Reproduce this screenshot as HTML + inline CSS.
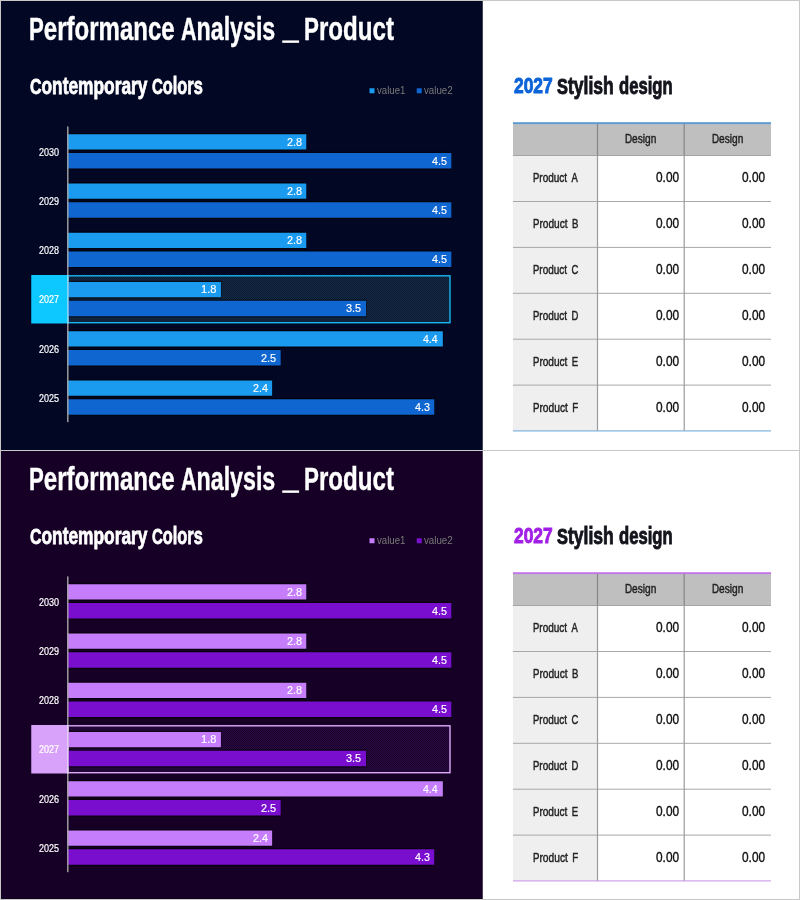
<!DOCTYPE html>
<html lang="en"><head><meta charset="utf-8"><title>Performance Analysis _ Product</title>
<style>
html,body{margin:0;padding:0;background:#fff}
body{width:800px;height:900px;position:relative;overflow:hidden;font-family:"Liberation Sans",sans-serif}
.abs,.t{position:absolute}
.t{white-space:pre;line-height:1;transform-origin:0 0;display:block}
</style></head><body>

<svg class="abs" style="left:0;top:0" width="800" height="900" viewBox="0 0 800 900"><defs><pattern id="h0" width="2" height="2" patternUnits="userSpaceOnUse"><rect width="2" height="2" fill="#0a1a30"/><path d="M-0.5,0.5 L0.5,-0.5 M0,2 L2,0 M1.5,2.5 L2.5,1.5" stroke="#1a3050" stroke-width="0.75"/></pattern><pattern id="h1" width="2" height="2" patternUnits="userSpaceOnUse"><rect width="2" height="2" fill="#19042a"/><path d="M-0.5,0.5 L0.5,-0.5 M0,2 L2,0 M1.5,2.5 L2.5,1.5" stroke="#33094e" stroke-width="0.75"/></pattern></defs>
<rect x="1.00" y="1.00" width="481.75" height="449.00" fill="#020724"/>
<rect x="369.50" y="88.25" width="5.00" height="5.00" fill="#1a9bf0"/>
<rect x="416.75" y="88.25" width="5.00" height="5.00" fill="#0f66d0"/>
<rect x="31.25" y="275.00" width="37.00" height="48.50" fill="#0cc8ff"/>
<rect x="68.00" y="275.80" width="382.00" height="46.90" fill="url(#h0)" stroke="#18b8f0" stroke-width="1.4"/>
<rect x="67.30" y="132.95" width="239.48" height="17.85" fill="#000" opacity="0.55"/>
<rect x="67.30" y="151.70" width="384.57" height="18.10" fill="#000" opacity="0.55"/>
<rect x="67.30" y="134.25" width="238.98" height="15.25" fill="#1a9bf0"/>
<rect x="67.30" y="153.00" width="384.07" height="15.50" fill="#0f66d0"/>
<rect x="67.30" y="182.20" width="239.48" height="17.85" fill="#000" opacity="0.55"/>
<rect x="67.30" y="200.95" width="384.57" height="18.10" fill="#000" opacity="0.55"/>
<rect x="67.30" y="183.50" width="238.98" height="15.25" fill="#1a9bf0"/>
<rect x="67.30" y="202.25" width="384.07" height="15.50" fill="#0f66d0"/>
<rect x="67.30" y="231.45" width="239.48" height="17.85" fill="#000" opacity="0.55"/>
<rect x="67.30" y="250.20" width="384.57" height="18.10" fill="#000" opacity="0.55"/>
<rect x="67.30" y="232.75" width="238.98" height="15.25" fill="#1a9bf0"/>
<rect x="67.30" y="251.50" width="384.07" height="15.50" fill="#0f66d0"/>
<rect x="67.30" y="280.70" width="154.13" height="17.85" fill="#000" opacity="0.55"/>
<rect x="67.30" y="299.45" width="299.22" height="18.10" fill="#000" opacity="0.55"/>
<rect x="67.30" y="282.00" width="153.63" height="15.25" fill="#1a9bf0"/>
<rect x="67.30" y="300.75" width="298.72" height="15.50" fill="#0f66d0"/>
<rect x="67.30" y="329.95" width="376.04" height="17.85" fill="#000" opacity="0.55"/>
<rect x="67.30" y="348.70" width="213.88" height="18.10" fill="#000" opacity="0.55"/>
<rect x="67.30" y="331.25" width="375.54" height="15.25" fill="#1a9bf0"/>
<rect x="67.30" y="350.00" width="213.38" height="15.50" fill="#0f66d0"/>
<rect x="67.30" y="379.20" width="205.34" height="17.85" fill="#000" opacity="0.55"/>
<rect x="67.30" y="397.95" width="367.50" height="18.10" fill="#000" opacity="0.55"/>
<rect x="67.30" y="380.50" width="204.84" height="15.25" fill="#1a9bf0"/>
<rect x="67.30" y="399.25" width="367.00" height="15.50" fill="#0f66d0"/>
<rect x="67.10" y="126.40" width="1.40" height="295.80" fill="#a6a6a6"/>
<rect x="67.10" y="275.00" width="1.40" height="48.50" fill="#7fdcff"/>
<rect x="513.00" y="124.00" width="258.00" height="31.60" fill="#bfbfbf"/>
<rect x="513.00" y="155.60" width="84.40" height="275.40" fill="#efefef"/>
<rect x="513.00" y="122.20" width="258.00" height="1.90" fill="#5b9bd5"/>
<rect x="513.00" y="155.00" width="258.00" height="1.00" fill="#a4a4a4"/>
<rect x="513.00" y="201.00" width="258.00" height="1.00" fill="#a8a8a8"/>
<rect x="513.00" y="246.90" width="258.00" height="1.00" fill="#a8a8a8"/>
<rect x="513.00" y="292.80" width="258.00" height="1.00" fill="#a8a8a8"/>
<rect x="513.00" y="338.70" width="258.00" height="1.00" fill="#a8a8a8"/>
<rect x="513.00" y="384.60" width="258.00" height="1.00" fill="#a8a8a8"/>
<rect x="513.00" y="430.30" width="258.00" height="1.20" fill="#7fb2dc"/>
<rect x="596.90" y="124.00" width="1.20" height="31.50" fill="#858585"/>
<rect x="596.90" y="155.50" width="1.20" height="275.30" fill="#9c9c9c"/>
<rect x="683.60" y="124.00" width="1.20" height="31.50" fill="#858585"/>
<rect x="683.60" y="155.50" width="1.20" height="275.30" fill="#9c9c9c"/>
<rect x="1.00" y="451.00" width="481.75" height="448.00" fill="#160025"/>
<rect x="369.50" y="538.25" width="5.00" height="5.00" fill="#c67dfb"/>
<rect x="416.75" y="538.25" width="5.00" height="5.00" fill="#7a0ece"/>
<rect x="31.25" y="725.00" width="37.00" height="48.50" fill="#d9a2fa"/>
<rect x="68.00" y="725.80" width="382.00" height="46.90" fill="url(#h1)" stroke="#dcaaf8" stroke-width="1.4"/>
<rect x="67.30" y="582.95" width="239.48" height="17.85" fill="#000" opacity="0.55"/>
<rect x="67.30" y="601.70" width="384.57" height="18.10" fill="#000" opacity="0.55"/>
<rect x="67.30" y="584.25" width="238.98" height="15.25" fill="#c67dfb"/>
<rect x="67.30" y="603.00" width="384.07" height="15.50" fill="#7a0ece"/>
<rect x="67.30" y="632.20" width="239.48" height="17.85" fill="#000" opacity="0.55"/>
<rect x="67.30" y="650.95" width="384.57" height="18.10" fill="#000" opacity="0.55"/>
<rect x="67.30" y="633.50" width="238.98" height="15.25" fill="#c67dfb"/>
<rect x="67.30" y="652.25" width="384.07" height="15.50" fill="#7a0ece"/>
<rect x="67.30" y="681.45" width="239.48" height="17.85" fill="#000" opacity="0.55"/>
<rect x="67.30" y="700.20" width="384.57" height="18.10" fill="#000" opacity="0.55"/>
<rect x="67.30" y="682.75" width="238.98" height="15.25" fill="#c67dfb"/>
<rect x="67.30" y="701.50" width="384.07" height="15.50" fill="#7a0ece"/>
<rect x="67.30" y="730.70" width="154.13" height="17.85" fill="#000" opacity="0.55"/>
<rect x="67.30" y="749.45" width="299.22" height="18.10" fill="#000" opacity="0.55"/>
<rect x="67.30" y="732.00" width="153.63" height="15.25" fill="#c67dfb"/>
<rect x="67.30" y="750.75" width="298.72" height="15.50" fill="#7a0ece"/>
<rect x="67.30" y="779.95" width="376.04" height="17.85" fill="#000" opacity="0.55"/>
<rect x="67.30" y="798.70" width="213.88" height="18.10" fill="#000" opacity="0.55"/>
<rect x="67.30" y="781.25" width="375.54" height="15.25" fill="#c67dfb"/>
<rect x="67.30" y="800.00" width="213.38" height="15.50" fill="#7a0ece"/>
<rect x="67.30" y="829.20" width="205.34" height="17.85" fill="#000" opacity="0.55"/>
<rect x="67.30" y="847.95" width="367.50" height="18.10" fill="#000" opacity="0.55"/>
<rect x="67.30" y="830.50" width="204.84" height="15.25" fill="#c67dfb"/>
<rect x="67.30" y="849.25" width="367.00" height="15.50" fill="#7a0ece"/>
<rect x="67.10" y="576.40" width="1.40" height="295.80" fill="#a6a6a6"/>
<rect x="67.10" y="725.00" width="1.40" height="48.50" fill="#ecd2fc"/>
<rect x="513.00" y="574.00" width="258.00" height="31.60" fill="#bfbfbf"/>
<rect x="513.00" y="605.60" width="84.40" height="275.40" fill="#efefef"/>
<rect x="513.00" y="572.20" width="258.00" height="1.90" fill="#c274ea"/>
<rect x="513.00" y="605.00" width="258.00" height="1.00" fill="#a4a4a4"/>
<rect x="513.00" y="651.00" width="258.00" height="1.00" fill="#a8a8a8"/>
<rect x="513.00" y="696.90" width="258.00" height="1.00" fill="#a8a8a8"/>
<rect x="513.00" y="742.80" width="258.00" height="1.00" fill="#a8a8a8"/>
<rect x="513.00" y="788.70" width="258.00" height="1.00" fill="#a8a8a8"/>
<rect x="513.00" y="834.60" width="258.00" height="1.00" fill="#a8a8a8"/>
<rect x="513.00" y="880.30" width="258.00" height="1.20" fill="#cfa2ea"/>
<rect x="596.90" y="574.00" width="1.20" height="31.50" fill="#858585"/>
<rect x="596.90" y="605.50" width="1.20" height="275.30" fill="#9c9c9c"/>
<rect x="683.60" y="574.00" width="1.20" height="31.50" fill="#858585"/>
<rect x="683.60" y="605.50" width="1.20" height="275.30" fill="#9c9c9c"/>
<rect x="0.00" y="450.00" width="800.00" height="1.00" fill="#c8c8c8"/>
<rect x="0.5" y="0.5" width="799" height="899" fill="none" stroke="#c8c8c8" stroke-width="1"/>
</svg>
<span class="t" style="left:28.70px;top:11.70px;font-size:33.2px;font-weight:700;color:#fff;-webkit-text-stroke:0.4px #fff;transform:scaleX(0.7236)"><span style="font-size:0.925em">P</span>erformance</span>
<span class="t" style="left:180.87px;top:11.70px;font-size:33.2px;font-weight:700;color:#fff;-webkit-text-stroke:0.4px #fff;transform:scaleX(0.6998)"><span style="font-size:0.925em">A</span>nalysis</span>
<span class="t" style="left:282.93px;top:9.50px;font-size:33.2px;font-weight:700;color:#fff;-webkit-text-stroke:1.0px #fff;transform:scaleX(0.8350)">_</span>
<span class="t" style="left:304.29px;top:11.70px;font-size:33.2px;font-weight:700;color:#fff;-webkit-text-stroke:0.4px #fff;transform:scaleX(0.7267)"><span style="font-size:0.925em">P</span>roduct</span>
<span class="t" style="left:29.82px;top:74.18px;font-size:24.3px;font-weight:700;color:#fff;-webkit-text-stroke:0.8px #fff;transform:scaleX(0.7136)"><span style="font-size:0.918em">C</span>ontemporary</span>
<span class="t" style="left:151.50px;top:74.18px;font-size:24.3px;font-weight:700;color:#fff;-webkit-text-stroke:0.8px #fff;transform:scaleX(0.6729)"><span style="font-size:0.918em">C</span>olors</span>
<span class="t" style="left:377.00px;top:86.13px;font-size:10px;font-weight:400;color:#7a7a7a;transform:scaleX(0.9655)">value1</span>
<span class="t" style="left:423.75px;top:86.13px;font-size:10px;font-weight:400;color:#7a7a7a;transform:scaleX(0.9741)">value2</span>
<span class="t" style="left:39.45px;top:147.72px;font-size:10.2px;font-weight:400;color:#fff;-webkit-text-stroke:0.2px #fff;transform:scaleX(0.8838)">2030</span>
<span class="t" style="left:286.65px;top:136.61px;font-size:10.8px;font-weight:400;color:#fff;-webkit-text-stroke:0.15px #fff;transform:scaleX(1.0106)">2.8</span>
<span class="t" style="left:432.00px;top:155.51px;font-size:10.8px;font-weight:400;color:#fff;-webkit-text-stroke:0.15px #fff;transform:scaleX(0.9931)">4.5</span>
<span class="t" style="left:39.45px;top:196.97px;font-size:10.2px;font-weight:400;color:#fff;-webkit-text-stroke:0.2px #fff;transform:scaleX(0.8838)">2029</span>
<span class="t" style="left:286.65px;top:185.86px;font-size:10.8px;font-weight:400;color:#fff;-webkit-text-stroke:0.15px #fff;transform:scaleX(1.0106)">2.8</span>
<span class="t" style="left:432.00px;top:204.76px;font-size:10.8px;font-weight:400;color:#fff;-webkit-text-stroke:0.15px #fff;transform:scaleX(0.9931)">4.5</span>
<span class="t" style="left:39.45px;top:246.22px;font-size:10.2px;font-weight:400;color:#fff;-webkit-text-stroke:0.2px #fff;transform:scaleX(0.8838)">2028</span>
<span class="t" style="left:286.65px;top:235.11px;font-size:10.8px;font-weight:400;color:#fff;-webkit-text-stroke:0.15px #fff;transform:scaleX(1.0106)">2.8</span>
<span class="t" style="left:432.00px;top:254.01px;font-size:10.8px;font-weight:400;color:#fff;-webkit-text-stroke:0.15px #fff;transform:scaleX(0.9931)">4.5</span>
<span class="t" style="left:39.45px;top:295.47px;font-size:10.2px;font-weight:400;color:#fff;-webkit-text-stroke:0.2px #fff;transform:scaleX(0.8838)">2027</span>
<span class="t" style="left:201.04px;top:284.36px;font-size:10.8px;font-weight:400;color:#fff;-webkit-text-stroke:0.15px #fff;transform:scaleX(1.0288)">1.8</span>
<span class="t" style="left:346.40px;top:303.26px;font-size:10.8px;font-weight:400;color:#fff;-webkit-text-stroke:0.15px #fff;transform:scaleX(1.0106)">3.5</span>
<span class="t" style="left:39.45px;top:344.72px;font-size:10.2px;font-weight:400;color:#fff;-webkit-text-stroke:0.2px #fff;transform:scaleX(0.8838)">2026</span>
<span class="t" style="left:423.47px;top:333.61px;font-size:10.8px;font-weight:400;color:#fff;-webkit-text-stroke:0.15px #fff;transform:scaleX(0.9761)">4.4</span>
<span class="t" style="left:261.05px;top:352.51px;font-size:10.8px;font-weight:400;color:#fff;-webkit-text-stroke:0.15px #fff;transform:scaleX(1.0106)">2.5</span>
<span class="t" style="left:39.45px;top:393.97px;font-size:10.2px;font-weight:400;color:#fff;-webkit-text-stroke:0.2px #fff;transform:scaleX(0.8838)">2025</span>
<span class="t" style="left:252.52px;top:382.86px;font-size:10.8px;font-weight:400;color:#fff;-webkit-text-stroke:0.15px #fff;transform:scaleX(0.9931)">2.4</span>
<span class="t" style="left:414.93px;top:401.76px;font-size:10.8px;font-weight:400;color:#fff;-webkit-text-stroke:0.15px #fff;transform:scaleX(0.9931)">4.3</span>
<span class="t" style="left:513.65px;top:76.07px;font-size:21.3px;font-weight:700;color:#0b63d8;-webkit-text-stroke:0.9px #0b63d8;transform:scaleX(0.8167)">2027</span>
<span class="t" style="left:556.77px;top:74.63px;font-size:23px;font-weight:700;color:#14141c;-webkit-text-stroke:0.9px #14141c;transform:scaleX(0.7621)"><span style="font-size:0.935em">S</span>tylish</span>
<span class="t" style="left:619.35px;top:74.63px;font-size:23px;font-weight:700;color:#14141c;-webkit-text-stroke:0.9px #14141c;transform:scaleX(0.7226)">design</span>
<span class="t" style="left:532.90px;top:171.20px;font-size:13px;font-weight:400;color:#222;-webkit-text-stroke:0.45px #222;word-spacing:2px;transform:scaleX(0.7678)"><span style="font-size:0.95em">P</span>roduct <span style="font-size:0.95em">A</span></span>
<span class="t" style="left:655.55px;top:170.26px;font-size:14.1px;font-weight:400;color:#111;-webkit-text-stroke:0.4px #111;transform:scaleX(0.8405)">0.00</span>
<span class="t" style="left:741.95px;top:170.26px;font-size:14.1px;font-weight:400;color:#111;-webkit-text-stroke:0.4px #111;transform:scaleX(0.8405)">0.00</span>
<span class="t" style="left:532.90px;top:217.10px;font-size:13px;font-weight:400;color:#222;-webkit-text-stroke:0.45px #222;word-spacing:2px;transform:scaleX(0.7779)"><span style="font-size:0.95em">P</span>roduct <span style="font-size:0.95em">B</span></span>
<span class="t" style="left:655.55px;top:216.16px;font-size:14.1px;font-weight:400;color:#111;-webkit-text-stroke:0.4px #111;transform:scaleX(0.8405)">0.00</span>
<span class="t" style="left:741.95px;top:216.16px;font-size:14.1px;font-weight:400;color:#111;-webkit-text-stroke:0.4px #111;transform:scaleX(0.8405)">0.00</span>
<span class="t" style="left:532.90px;top:263.00px;font-size:13px;font-weight:400;color:#222;-webkit-text-stroke:0.45px #222;word-spacing:2px;transform:scaleX(0.7678)"><span style="font-size:0.95em">P</span>roduct <span style="font-size:0.95em">C</span></span>
<span class="t" style="left:655.55px;top:262.06px;font-size:14.1px;font-weight:400;color:#111;-webkit-text-stroke:0.4px #111;transform:scaleX(0.8405)">0.00</span>
<span class="t" style="left:741.95px;top:262.06px;font-size:14.1px;font-weight:400;color:#111;-webkit-text-stroke:0.4px #111;transform:scaleX(0.8405)">0.00</span>
<span class="t" style="left:532.90px;top:308.90px;font-size:13px;font-weight:400;color:#222;-webkit-text-stroke:0.45px #222;word-spacing:2px;transform:scaleX(0.7678)"><span style="font-size:0.95em">P</span>roduct <span style="font-size:0.95em">D</span></span>
<span class="t" style="left:655.55px;top:307.96px;font-size:14.1px;font-weight:400;color:#111;-webkit-text-stroke:0.4px #111;transform:scaleX(0.8405)">0.00</span>
<span class="t" style="left:741.95px;top:307.96px;font-size:14.1px;font-weight:400;color:#111;-webkit-text-stroke:0.4px #111;transform:scaleX(0.8405)">0.00</span>
<span class="t" style="left:532.90px;top:354.80px;font-size:13px;font-weight:400;color:#222;-webkit-text-stroke:0.45px #222;word-spacing:2px;transform:scaleX(0.7745)"><span style="font-size:0.95em">P</span>roduct <span style="font-size:0.95em">E</span></span>
<span class="t" style="left:655.55px;top:353.86px;font-size:14.1px;font-weight:400;color:#111;-webkit-text-stroke:0.4px #111;transform:scaleX(0.8405)">0.00</span>
<span class="t" style="left:741.95px;top:353.86px;font-size:14.1px;font-weight:400;color:#111;-webkit-text-stroke:0.4px #111;transform:scaleX(0.8405)">0.00</span>
<span class="t" style="left:532.89px;top:400.70px;font-size:13px;font-weight:400;color:#222;-webkit-text-stroke:0.45px #222;word-spacing:2px;transform:scaleX(0.7848)"><span style="font-size:0.95em">P</span>roduct <span style="font-size:0.95em">F</span></span>
<span class="t" style="left:655.55px;top:399.76px;font-size:14.1px;font-weight:400;color:#111;-webkit-text-stroke:0.4px #111;transform:scaleX(0.8405)">0.00</span>
<span class="t" style="left:741.95px;top:399.76px;font-size:14.1px;font-weight:400;color:#111;-webkit-text-stroke:0.4px #111;transform:scaleX(0.8405)">0.00</span>
<span class="t" style="left:625.30px;top:132.00px;font-size:13px;font-weight:400;color:#222;-webkit-text-stroke:0.45px #222;transform:scaleX(0.7804)"><span style="font-size:0.97em">D</span>esign</span>
<span class="t" style="left:711.70px;top:132.00px;font-size:13px;font-weight:400;color:#222;-webkit-text-stroke:0.45px #222;transform:scaleX(0.7804)"><span style="font-size:0.97em">D</span>esign</span>
<span class="t" style="left:28.70px;top:461.70px;font-size:33.2px;font-weight:700;color:#fff;-webkit-text-stroke:0.4px #fff;transform:scaleX(0.7236)"><span style="font-size:0.925em">P</span>erformance</span>
<span class="t" style="left:180.87px;top:461.70px;font-size:33.2px;font-weight:700;color:#fff;-webkit-text-stroke:0.4px #fff;transform:scaleX(0.6998)"><span style="font-size:0.925em">A</span>nalysis</span>
<span class="t" style="left:282.93px;top:459.50px;font-size:33.2px;font-weight:700;color:#fff;-webkit-text-stroke:1.0px #fff;transform:scaleX(0.8350)">_</span>
<span class="t" style="left:304.29px;top:461.70px;font-size:33.2px;font-weight:700;color:#fff;-webkit-text-stroke:0.4px #fff;transform:scaleX(0.7267)"><span style="font-size:0.925em">P</span>roduct</span>
<span class="t" style="left:29.82px;top:524.18px;font-size:24.3px;font-weight:700;color:#fff;-webkit-text-stroke:0.8px #fff;transform:scaleX(0.7136)"><span style="font-size:0.918em">C</span>ontemporary</span>
<span class="t" style="left:151.50px;top:524.18px;font-size:24.3px;font-weight:700;color:#fff;-webkit-text-stroke:0.8px #fff;transform:scaleX(0.6729)"><span style="font-size:0.918em">C</span>olors</span>
<span class="t" style="left:377.00px;top:536.13px;font-size:10px;font-weight:400;color:#7a7a7a;transform:scaleX(0.9655)">value1</span>
<span class="t" style="left:423.75px;top:536.13px;font-size:10px;font-weight:400;color:#7a7a7a;transform:scaleX(0.9741)">value2</span>
<span class="t" style="left:39.45px;top:597.72px;font-size:10.2px;font-weight:400;color:#fff;-webkit-text-stroke:0.2px #fff;transform:scaleX(0.8838)">2030</span>
<span class="t" style="left:286.65px;top:586.61px;font-size:10.8px;font-weight:400;color:#fff;-webkit-text-stroke:0.15px #fff;transform:scaleX(1.0106)">2.8</span>
<span class="t" style="left:432.00px;top:605.51px;font-size:10.8px;font-weight:400;color:#fff;-webkit-text-stroke:0.15px #fff;transform:scaleX(0.9931)">4.5</span>
<span class="t" style="left:39.45px;top:646.97px;font-size:10.2px;font-weight:400;color:#fff;-webkit-text-stroke:0.2px #fff;transform:scaleX(0.8838)">2029</span>
<span class="t" style="left:286.65px;top:635.86px;font-size:10.8px;font-weight:400;color:#fff;-webkit-text-stroke:0.15px #fff;transform:scaleX(1.0106)">2.8</span>
<span class="t" style="left:432.00px;top:654.76px;font-size:10.8px;font-weight:400;color:#fff;-webkit-text-stroke:0.15px #fff;transform:scaleX(0.9931)">4.5</span>
<span class="t" style="left:39.45px;top:696.22px;font-size:10.2px;font-weight:400;color:#fff;-webkit-text-stroke:0.2px #fff;transform:scaleX(0.8838)">2028</span>
<span class="t" style="left:286.65px;top:685.11px;font-size:10.8px;font-weight:400;color:#fff;-webkit-text-stroke:0.15px #fff;transform:scaleX(1.0106)">2.8</span>
<span class="t" style="left:432.00px;top:704.01px;font-size:10.8px;font-weight:400;color:#fff;-webkit-text-stroke:0.15px #fff;transform:scaleX(0.9931)">4.5</span>
<span class="t" style="left:39.45px;top:745.47px;font-size:10.2px;font-weight:400;color:#fff;-webkit-text-stroke:0.2px #fff;transform:scaleX(0.8838)">2027</span>
<span class="t" style="left:201.04px;top:734.36px;font-size:10.8px;font-weight:400;color:#fff;-webkit-text-stroke:0.15px #fff;transform:scaleX(1.0288)">1.8</span>
<span class="t" style="left:346.40px;top:753.26px;font-size:10.8px;font-weight:400;color:#fff;-webkit-text-stroke:0.15px #fff;transform:scaleX(1.0106)">3.5</span>
<span class="t" style="left:39.45px;top:794.72px;font-size:10.2px;font-weight:400;color:#fff;-webkit-text-stroke:0.2px #fff;transform:scaleX(0.8838)">2026</span>
<span class="t" style="left:423.47px;top:783.61px;font-size:10.8px;font-weight:400;color:#fff;-webkit-text-stroke:0.15px #fff;transform:scaleX(0.9761)">4.4</span>
<span class="t" style="left:261.05px;top:802.51px;font-size:10.8px;font-weight:400;color:#fff;-webkit-text-stroke:0.15px #fff;transform:scaleX(1.0106)">2.5</span>
<span class="t" style="left:39.45px;top:843.97px;font-size:10.2px;font-weight:400;color:#fff;-webkit-text-stroke:0.2px #fff;transform:scaleX(0.8838)">2025</span>
<span class="t" style="left:252.52px;top:832.86px;font-size:10.8px;font-weight:400;color:#fff;-webkit-text-stroke:0.15px #fff;transform:scaleX(0.9931)">2.4</span>
<span class="t" style="left:414.93px;top:851.76px;font-size:10.8px;font-weight:400;color:#fff;-webkit-text-stroke:0.15px #fff;transform:scaleX(0.9931)">4.3</span>
<span class="t" style="left:513.65px;top:526.07px;font-size:21.3px;font-weight:700;color:#a21fe6;-webkit-text-stroke:0.9px #a21fe6;transform:scaleX(0.8167)">2027</span>
<span class="t" style="left:556.77px;top:524.63px;font-size:23px;font-weight:700;color:#14141c;-webkit-text-stroke:0.9px #14141c;transform:scaleX(0.7621)"><span style="font-size:0.935em">S</span>tylish</span>
<span class="t" style="left:619.35px;top:524.63px;font-size:23px;font-weight:700;color:#14141c;-webkit-text-stroke:0.9px #14141c;transform:scaleX(0.7226)">design</span>
<span class="t" style="left:532.90px;top:621.20px;font-size:13px;font-weight:400;color:#222;-webkit-text-stroke:0.45px #222;word-spacing:2px;transform:scaleX(0.7678)"><span style="font-size:0.95em">P</span>roduct <span style="font-size:0.95em">A</span></span>
<span class="t" style="left:655.55px;top:620.26px;font-size:14.1px;font-weight:400;color:#111;-webkit-text-stroke:0.4px #111;transform:scaleX(0.8405)">0.00</span>
<span class="t" style="left:741.95px;top:620.26px;font-size:14.1px;font-weight:400;color:#111;-webkit-text-stroke:0.4px #111;transform:scaleX(0.8405)">0.00</span>
<span class="t" style="left:532.90px;top:667.10px;font-size:13px;font-weight:400;color:#222;-webkit-text-stroke:0.45px #222;word-spacing:2px;transform:scaleX(0.7779)"><span style="font-size:0.95em">P</span>roduct <span style="font-size:0.95em">B</span></span>
<span class="t" style="left:655.55px;top:666.16px;font-size:14.1px;font-weight:400;color:#111;-webkit-text-stroke:0.4px #111;transform:scaleX(0.8405)">0.00</span>
<span class="t" style="left:741.95px;top:666.16px;font-size:14.1px;font-weight:400;color:#111;-webkit-text-stroke:0.4px #111;transform:scaleX(0.8405)">0.00</span>
<span class="t" style="left:532.90px;top:713.00px;font-size:13px;font-weight:400;color:#222;-webkit-text-stroke:0.45px #222;word-spacing:2px;transform:scaleX(0.7678)"><span style="font-size:0.95em">P</span>roduct <span style="font-size:0.95em">C</span></span>
<span class="t" style="left:655.55px;top:712.06px;font-size:14.1px;font-weight:400;color:#111;-webkit-text-stroke:0.4px #111;transform:scaleX(0.8405)">0.00</span>
<span class="t" style="left:741.95px;top:712.06px;font-size:14.1px;font-weight:400;color:#111;-webkit-text-stroke:0.4px #111;transform:scaleX(0.8405)">0.00</span>
<span class="t" style="left:532.90px;top:758.90px;font-size:13px;font-weight:400;color:#222;-webkit-text-stroke:0.45px #222;word-spacing:2px;transform:scaleX(0.7678)"><span style="font-size:0.95em">P</span>roduct <span style="font-size:0.95em">D</span></span>
<span class="t" style="left:655.55px;top:757.96px;font-size:14.1px;font-weight:400;color:#111;-webkit-text-stroke:0.4px #111;transform:scaleX(0.8405)">0.00</span>
<span class="t" style="left:741.95px;top:757.96px;font-size:14.1px;font-weight:400;color:#111;-webkit-text-stroke:0.4px #111;transform:scaleX(0.8405)">0.00</span>
<span class="t" style="left:532.90px;top:804.80px;font-size:13px;font-weight:400;color:#222;-webkit-text-stroke:0.45px #222;word-spacing:2px;transform:scaleX(0.7745)"><span style="font-size:0.95em">P</span>roduct <span style="font-size:0.95em">E</span></span>
<span class="t" style="left:655.55px;top:803.86px;font-size:14.1px;font-weight:400;color:#111;-webkit-text-stroke:0.4px #111;transform:scaleX(0.8405)">0.00</span>
<span class="t" style="left:741.95px;top:803.86px;font-size:14.1px;font-weight:400;color:#111;-webkit-text-stroke:0.4px #111;transform:scaleX(0.8405)">0.00</span>
<span class="t" style="left:532.89px;top:850.70px;font-size:13px;font-weight:400;color:#222;-webkit-text-stroke:0.45px #222;word-spacing:2px;transform:scaleX(0.7848)"><span style="font-size:0.95em">P</span>roduct <span style="font-size:0.95em">F</span></span>
<span class="t" style="left:655.55px;top:849.76px;font-size:14.1px;font-weight:400;color:#111;-webkit-text-stroke:0.4px #111;transform:scaleX(0.8405)">0.00</span>
<span class="t" style="left:741.95px;top:849.76px;font-size:14.1px;font-weight:400;color:#111;-webkit-text-stroke:0.4px #111;transform:scaleX(0.8405)">0.00</span>
<span class="t" style="left:625.30px;top:582.00px;font-size:13px;font-weight:400;color:#222;-webkit-text-stroke:0.45px #222;transform:scaleX(0.7804)"><span style="font-size:0.97em">D</span>esign</span>
<span class="t" style="left:711.70px;top:582.00px;font-size:13px;font-weight:400;color:#222;-webkit-text-stroke:0.45px #222;transform:scaleX(0.7804)"><span style="font-size:0.97em">D</span>esign</span>
</body></html>
